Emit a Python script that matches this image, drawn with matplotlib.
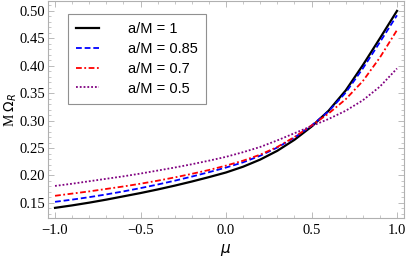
import matplotlib
matplotlib.use('Agg')
import matplotlib.pyplot as plt
from matplotlib.ticker import MultipleLocator

mu = [-1.0, -0.9, -0.8, -0.7, -0.6, -0.5, -0.4, -0.3, -0.2, -0.1, 0.0,
      0.1, 0.2, 0.3, 0.4, 0.5, 0.6, 0.7, 0.8, 0.9, 1.0]

omega_a100 = [0.141, 0.1455, 0.1505, 0.156, 0.162, 0.168, 0.1745, 0.1815, 0.189, 0.197, 0.2055,
              0.216, 0.229, 0.245, 0.265, 0.289, 0.318, 0.355, 0.401, 0.450, 0.500]
omega_a085 = [0.152, 0.156, 0.1605, 0.1655, 0.171, 0.177, 0.1835, 0.1905, 0.198, 0.206, 0.2145,
              0.224, 0.236, 0.251, 0.269, 0.291, 0.317, 0.351, 0.395, 0.443, 0.492]
omega_a070 = [0.163, 0.167, 0.171, 0.1755, 0.180, 0.185, 0.1905, 0.1965, 0.203, 0.210, 0.218,
              0.227, 0.238, 0.252, 0.270, 0.291, 0.313, 0.339, 0.372, 0.415, 0.465]
omega_a050 = [0.181, 0.185, 0.1895, 0.194, 0.1985, 0.2035, 0.209, 0.2145, 0.2205, 0.227, 0.234,
              0.2425, 0.252, 0.264, 0.277, 0.290, 0.303, 0.318, 0.337, 0.362, 0.395]

labels = ['a/M = 1', 'a/M = 0.85', 'a/M = 0.7', 'a/M = 0.5']

fig = plt.figure(figsize=(4.15, 2.58), dpi=100, facecolor='white')
ax = fig.add_axes([0.1157, 0.155, 0.8578, 0.841])

ax.plot(mu, omega_a100, color='black', lw=1.6, ls='-', label=labels[0])
ax.plot(mu, omega_a085, color='#0000ff', lw=1.3, ls=(0, (3.2, 1.6)), label=labels[1])
ax.plot(mu, omega_a070, color='#ff0000', lw=1.3, ls=(0, (3.2, 1.4, 1, 1.4)), label=labels[2])
ax.plot(mu, omega_a050, color='#800080', lw=1.3, ls=(0, (1, 1.1)), label=labels[3])

ax.set_xlim(-1.041, 1.041)
ax.set_ylim(0.1225, 0.518)

ax.xaxis.set_major_locator(MultipleLocator(0.5))
ax.xaxis.set_minor_locator(MultipleLocator(0.1))
ax.yaxis.set_major_locator(MultipleLocator(0.05))
ax.yaxis.set_minor_locator(MultipleLocator(0.01))
ax.xaxis.set_major_formatter(plt.FuncFormatter(lambda v, p: f'{v:.1f}'.replace('-', '\u2212')))
ax.yaxis.set_major_formatter(plt.FuncFormatter(lambda v, p: f'{v:.2f}'))

for s in ax.spines.values():
    s.set_color('#b0b0b0')
    s.set_linewidth(0.8)
ax.tick_params(which='both', direction='in', top=True, right=True, color='#b0b0b0',
               labelsize=10.5, labelcolor='black')
ax.tick_params(axis='y', pad=2)
ax.tick_params(axis='x', pad=4)
ax.tick_params(which='major', length=4, width=0.6)
ax.tick_params(which='minor', length=2, width=0.5)
for lab in ax.get_xticklabels() + ax.get_yticklabels():
    lab.set_fontfamily('Liberation Serif')

ax.set_xlabel('$\\mu$', fontsize=11, fontfamily='Liberation Serif', labelpad=4)
ax.set_ylabel('M $\\Omega_R$', fontsize=10, fontfamily='Liberation Serif', labelpad=0.5)

leg = ax.legend(loc='upper left', bbox_to_anchor=(0.056, 0.94), frameon=True,
                borderaxespad=0, fancybox=False, edgecolor='#909090', framealpha=1,
                prop={'family': 'Liberation Sans', 'size': 10.5},
                handlelength=1.6, handletextpad=2.0, borderpad=0.55, labelspacing=0.4)
leg.get_frame().set_linewidth(0.8)

plt.savefig('out.png', dpi=100, facecolor='white')
plt.close()
